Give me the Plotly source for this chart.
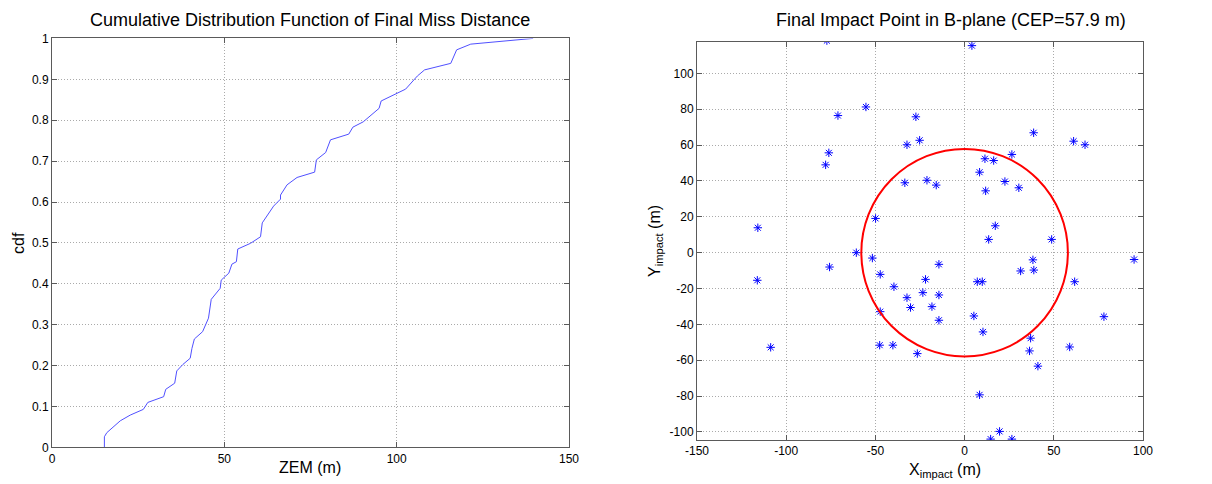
import plotly.graph_objects as go

# ---- Left panel: empirical CDF of final miss distance ----
zem_m = [15.2, 15.2, 15.9, 17.8, 19.8, 22.7, 26.5, 27.8, 32.4, 33.0, 35.6, 36.2, 38.0,
         40.1, 40.6, 41.3, 43.7, 45.4, 46.2, 48.8, 49.1, 51.3, 52.2, 53.5, 53.9, 57.6,
         59.0, 60.5, 61.0, 64.3, 66.3, 66.3, 68.2, 71.1, 76.2, 76.7, 79.4, 80.8, 86.1,
         87.3, 90.3, 94.9, 95.5, 99.7, 102.6, 106.0, 108.1, 115.7, 117.4, 121.5, 139.6]
cdf_vals = [0.0, 0.026, 0.036, 0.049, 0.065, 0.079, 0.093, 0.110, 0.124, 0.142, 0.157,
            0.187, 0.203, 0.218, 0.242, 0.265, 0.283, 0.316, 0.362, 0.389, 0.409, 0.426,
            0.448, 0.454, 0.485, 0.499, 0.507, 0.515, 0.549, 0.590, 0.607, 0.617, 0.642,
            0.660, 0.673, 0.703, 0.721, 0.752, 0.766, 0.783, 0.796, 0.829, 0.847, 0.863,
            0.876, 0.908, 0.923, 0.939, 0.972, 0.986, 1.0]

# ---- Right panel: impact points in B-plane ----
x_impact = [-77.2, -55.3, -71.0, -76.1, -77.9, -115.9, -27.3, -25.2, -32.3, -33.5, -21.1,
            -15.9, -49.9, -60.7, -51.7, 4.1, 38.7, 61.1, 67.5, 26.5, 11.4, 16.3, 8.4, 22.6,
            30.4, 11.8, 17.2, 13.5, 48.8, 38.3, 95.0, -75.7, -116.2, -108.7, -47.3, -39.6,
            -32.3, -30.3, -23.4, -21.9, -18.3, -14.4, -14.4, -14.4, -47.3, -47.6, -40.2,
            -26.5, 38.8, 31.4, 7.1, 9.9, 61.7, 5.2, 10.3, 78.1, 37.0, 36.4, 58.9, 41.1,
            8.4, 19.6, 14.6, 26.5]
y_impact = [118.3, 81.3, 76.5, 55.7, 49.0, 13.9, 75.8, 62.7, 60.2, 39.0, 40.4, 37.7, 19.1,
            0.0, -3.0, 115.5, 66.9, 62.2, 60.2, 54.8, 52.4, 51.4, 44.9, 39.7, 36.2, 34.5,
            15.0, 7.4, 7.4, -4.0, -3.8, -8.0, -15.4, -52.8, -12.1, -19.0, -25.1, -30.6,
            -22.3, -14.9, -30.1, -6.5, -23.6, -37.7, -32.9, -51.6, -51.6, -56.3, -9.7,
            -10.2, -16.2, -16.2, -16.2, -35.3, -44.2, -35.7, -47.7, -54.8, -52.6, -63.3,
            -79.3, -99.7, -104.0, -104.0]
cep_m = 57.9

left_xticks = [0, 50, 100, 150]
left_yticks = [0, 0.1, 0.2, 0.3, 0.4, 0.5, 0.6, 0.7, 0.8, 0.9, 1]
left_yticktext = ["0", "0.1", "0.2", "0.3", "0.4", "0.5", "0.6", "0.7", "0.8", "0.9", "1"]
right_xticks = [-150, -100, -50, 0, 50, 100]
right_xticktext = ["-150", "-100", "-50", "0", "50", "100"]
right_yticks = [-100, -80, -60, -40, -20, 0, 20, 40, 60, 80, 100]
right_yticktext = ["-100", "-80", "-60", "-40", "-20", "0", "20", "40", "60", "80", "100"]

W, H = 1212, 484
FONT = "Liberation Sans, Arial, sans-serif"

fig = go.Figure()
fig.add_trace(go.Scatter(x=zem_m, y=cdf_vals, mode="lines",
                         line=dict(color="rgb(80,80,255)", width=1),
                         xaxis="x", yaxis="y", showlegend=False))
fig.add_trace(go.Scatter(x=x_impact, y=y_impact, mode="markers",
                         marker=dict(symbol="asterisk-open", size=7, color="blue",
                                     line=dict(color="blue", width=1)),
                         xaxis="x2", yaxis="y2", showlegend=False))

fig.add_shape(type="circle", xref="x2", yref="y2",
              x0=-cep_m, x1=cep_m, y0=-cep_m, y1=cep_m,
              line=dict(color="rgb(255,0,0)", width=2))

axis_common = dict(showline=True, linecolor="rgb(90,90,90)", linewidth=1, mirror="allticks",
                   ticks="inside", ticklen=5, tickcolor="rgb(90,90,90)", automargin=False,
                   showgrid=True, gridcolor="rgb(170,170,170)", griddash="1px,2px", gridwidth=1,
                   zeroline=False, tickfont=dict(family=FONT, size=12, color="black"))

def px_x(p):
    return p / W

def px_y(p):
    return 1 - p / H

fig.update_layout(
    width=W, height=H, margin=dict(l=0, r=0, t=0, b=0, autoexpand=False),
    paper_bgcolor="white", plot_bgcolor="white",
    font=dict(family=FONT, color="black"),
    xaxis=dict(domain=[px_x(52), px_x(569)], range=[0, 150], anchor="y",
               tickvals=left_xticks, **axis_common),
    yaxis=dict(domain=[px_y(447.4), px_y(38.4)], range=[0, 1], anchor="x",
               tickvals=left_yticks, ticktext=left_yticktext, **axis_common),
    xaxis2=dict(domain=[px_x(697), px_x(1143)], range=[-150, 100], anchor="y2",
                tickvals=right_xticks, ticktext=right_xticktext, **axis_common),
    yaxis2=dict(domain=[px_y(440), px_y(41.7)], range=[-104.5, 117.7], anchor="x2",
                tickvals=right_yticks, ticktext=right_yticktext, **axis_common),
)

ann = [
    dict(text="Cumulative Distribution Function of Final Miss Distance",
         x=px_x(310), y=px_y(20), size=18, angle=0),
    dict(text="Final Impact Point in B-plane (CEP=57.9 m)",
         x=px_x(951), y=px_y(20), size=18, angle=0),
    dict(text="ZEM (m)", x=px_x(310), y=px_y(467), size=16, angle=0),
    dict(text="cdf", x=px_x(18), y=px_y(243), size=16, angle=-90),
    dict(text="X<sub>impact</sub> (m)", x=px_x(945), y=px_y(470), size=16, angle=0),
    dict(text="Y<sub>impact</sub> (m)", x=px_x(655), y=px_y(241), size=16, angle=-90),
]
for a in ann:
    fig.add_annotation(text=a["text"], x=a["x"], y=a["y"], xref="paper", yref="paper",
                       xanchor="center", yanchor="middle", showarrow=False,
                       textangle=a["angle"], font=dict(family=FONT, size=a["size"], color="black"))

fig.write_html("out.html")
